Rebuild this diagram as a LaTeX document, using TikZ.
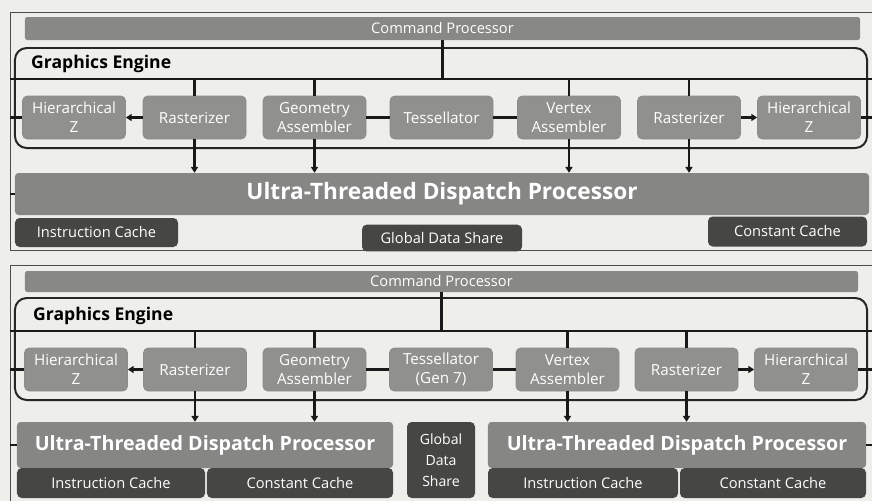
\documentclass[tikz,border=0pt]{standalone}
\usepackage{fontspec}
\setmainfont{Open Sans}
\usetikzlibrary{arrows.meta,positioning}
\definecolor{bgpaper}{RGB}{238,238,234}
\definecolor{bargray}{RGB}{136,136,134}
\definecolor{unitgray}{RGB}{144,144,142}
\definecolor{dispgray}{RGB}{134,134,132}
\definecolor{cachegray}{RGB}{70,70,68}

\begin{document}
\begin{tikzpicture}[x=0.03cm,y=-0.03cm,
  frame/.style={draw=black!70,line width=0.8pt},
  bus/.style={draw=black!90,line width=2.1pt},
  link/.style={bus,-{Triangle[length=5pt,width=6pt]}},
  cmdbar/.style={fill=bargray,rounded corners=2pt,inner sep=0pt,text=white!92,font=\fontsize{12.5}{14}\selectfont},
  engine/.style={draw=black!85,line width=1.7pt,rounded corners=10pt,inner sep=0pt},
  gelabel/.style={inner sep=0pt,font=\fontsize{15}{17}\selectfont\bfseries},
  unit/.style={fill=unitgray,draw=black!45,line width=0.6pt,rounded corners=4pt,inner sep=0pt,
    minimum width=3.09cm,minimum height=1.29cm,align=center,text=white!85,
    font=\fontsize{13}{16}\selectfont},
  dispatch/.style={fill=dispgray,rounded corners=3pt,inner sep=0pt,text=white!95,font=\bfseries},
  cache/.style={fill=cachegray,rounded corners=4pt,inner sep=0pt,align=center,text=white!90,
    font=\fontsize{12.5}{17}\selectfont}]
  \useasboundingbox[fill=bgpaper] (0,0) rectangle (872,501);
  \coordinate (fl) at (10,0);
  \coordinate (er) at (872,0);

  % upper panel
  \draw[frame] (872,12) -| (10,250) -- (872,250);
  \node[cmdbar,minimum width=25.05cm,minimum height=0.69cm] (cp1) at (442.5,28.5) {Command Processor};
  \node[engine,minimum width=25.56cm,minimum height=3cm] (ge1) at (441,98) {};
  \node[gelabel,anchor=west] (gel1) at (31,64) {Graphics Engine};
  \coordinate (bus1) at (10,79);
  \draw[bus] (bus1) -- (bus1 -| er);
  \draw[bus] (cp1.south) -- (cp1.south |- bus1);
  \foreach \n/\x/\t in {hzl/74/{Hierarchical\\Z},rasl/194.5/Rasterizer,geo/314.5/{Geometry\\Assembler},
      tess/441.5/Tessellator,vert/569/{Vertex\\Assembler},rasr/689/Rasterizer,hzr/809/{Hierarchical\\Z}}
    \node[unit] (\n1) at (\x,117.5) {\t};
  \node[dispatch,minimum width=25.62cm,minimum height=1.26cm,font=\fontsize{19.3}{22}\selectfont\bfseries]
    (ut1) at (442,194) {Ultra-Threaded Dispatch Processor};
  \node[cache,minimum width=4.89cm,minimum height=0.87cm] (ic1) at (96.5,232.5) {Instruction Cache};
  \node[cache,minimum width=4.8cm,minimum height=0.8cm] (gds1) at (442,238) {Global Data Share};
  \node[cache,minimum width=4.77cm,minimum height=0.9cm] (cc1) at (787.5,231.5) {Constant Cache};
  \draw[link] (rasl1) -- (hzl1);
  \draw[bus] (geo1) -- (tess1) -- (vert1);
  \draw[link] (rasr1) -- (hzr1);
  \draw[bus] (hzl1.west) -- (hzl1.west -| fl);
  \draw[bus] (hzr1.east) -- (hzr1.east -| er);
  \draw[bus] (ut1.west) -- (ut1.west -| fl);
  \foreach \n in {rasl,geo,vert,rasr}{
    \draw[bus] (\n1.north) -- (\n1.north |- bus1);
    \draw[link] (\n1.south) -- (\n1.south |- ut1.north);
  }

  % lower panel
  \draw[frame] (872,265) -| (10,501);
  \node[cmdbar,minimum width=24.99cm,minimum height=0.63cm] (cp2) at (441.5,281.5) {Command Processor};
  \node[engine,minimum width=25.56cm,minimum height=3.06cm] (ge2) at (441,349) {};
  \node[gelabel,anchor=west] (gel2) at (33,316) {Graphics Engine};
  \coordinate (bus2) at (10,331);
  \draw[bus] (bus2) -- (bus2 -| er);
  \draw[bus] (cp2.south) -- (cp2.south |- bus2);
  \foreach \n/\x/\t in {hzl/76/{Hierarchical\\Z},rasl/195/Rasterizer,geo/314.5/{Geometry\\Assembler},
      tess/441/{Tessellator\\(Gen 7)},vert/567.5/{Vertex\\Assembler},rasr/686.5/Rasterizer,hzr/806/{Hierarchical\\Z}}
    \node[unit] (\n2) at (\x,369.5) {\t};
  \node[dispatch,minimum width=11.28cm,minimum height=1.38cm,font=\fontsize{16.8}{20}\selectfont\bfseries]
    (utl2) at (205,445) {Ultra-Threaded Dispatch Processor};
  \node[cache,minimum width=5.64cm,minimum height=0.9cm] (icl2) at (111,483) {Instruction Cache};
  \node[cache,minimum width=5.58cm,minimum height=0.9cm] (ccl2) at (300,483) {Constant Cache};
  \node[cache,minimum width=2.04cm,minimum height=2.28cm,font=\fontsize{12}{18}\selectfont] (gds2) at (441,460) {Global\\Data\\Share};
  \node[dispatch,minimum width=11.34cm,minimum height=1.38cm,font=\fontsize{16.8}{20}\selectfont\bfseries]
    (utr2) at (677,445) {Ultra-Threaded Dispatch Processor};
  \node[cache,minimum width=5.7cm,minimum height=0.9cm] (icr2) at (583,483) {Instruction Cache};
  \node[cache,minimum width=5.58cm,minimum height=0.9cm] (ccr2) at (773,483) {Constant Cache};
  \draw[link] (rasl2) -- (hzl2);
  \draw[bus] (geo2) -- (tess2) -- (vert2);
  \draw[link] (rasr2) -- (hzr2);
  \draw[bus] (hzl2.west) -- (hzl2.west -| fl);
  \draw[bus] (hzr2.east) -- (hzr2.east -| er);
  \draw[bus] (utl2.west) -- (utl2.west -| fl);
  \draw[bus] (utr2.east) -- (utr2.east -| er);
  \foreach \n in {rasl,geo,vert,rasr}
    \draw[bus] (\n2.north) -- (\n2.north |- bus2);
  \foreach \n in {rasl,geo}
    \draw[link] (\n2.south) -- (\n2.south |- utl2.north);
  \foreach \n in {vert,rasr}
    \draw[link] (\n2.south) -- (\n2.south |- utr2.north);
\end{tikzpicture}
\end{document}
